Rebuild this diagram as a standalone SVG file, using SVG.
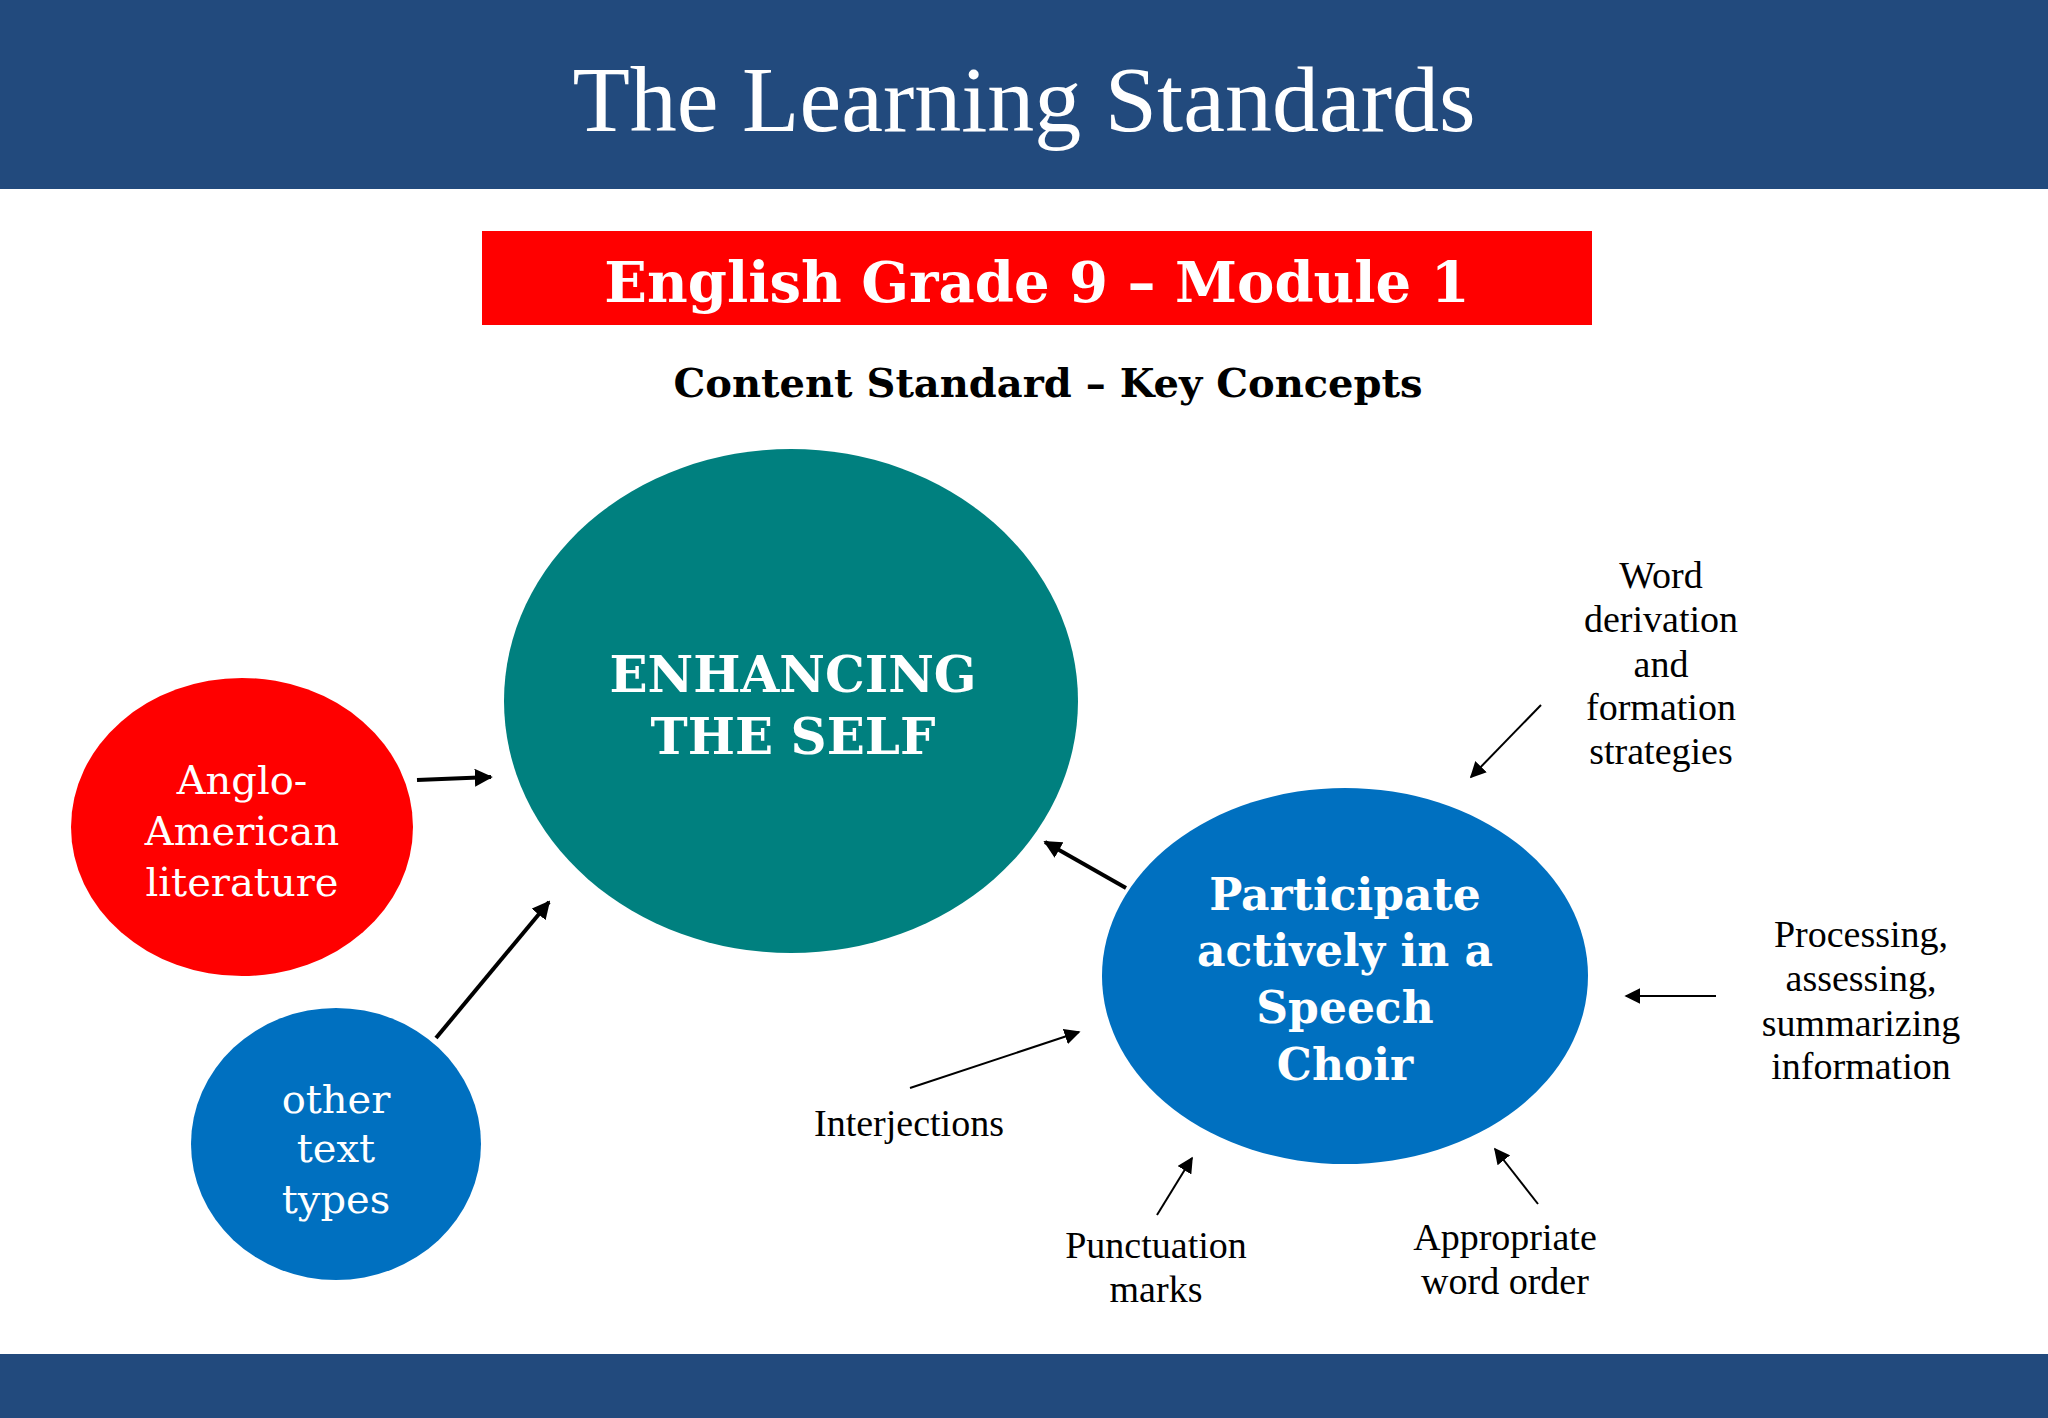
<svg xmlns="http://www.w3.org/2000/svg" width="2048" height="1418" viewBox="0 0 2048 1418">
<style>
.s{font-family:"DejaVu Serif","Liberation Serif",serif;text-anchor:middle}
.w{fill:#fff}
.b{font-weight:bold}
.lab{font-family:"Liberation Serif",serif;font-size:38px;text-anchor:middle;fill:#000}
.thick{stroke:#000;stroke-width:4;fill:none;marker-end:url(#ah)}
.thin{stroke:#000;stroke-width:2;fill:none;marker-end:url(#ah2)}
</style>
<defs>
<marker id="ah" viewBox="0 0 10 10" refX="9" refY="5" markerWidth="4.5" markerHeight="4.5" orient="auto"><path d="M0,0L10,5L0,10z" fill="#000"/></marker>
<marker id="ah2" viewBox="0 0 10 10" refX="9" refY="5" markerWidth="8" markerHeight="8" orient="auto"><path d="M0,0L10,5L0,10z" fill="#000"/></marker>
</defs>
<rect width="2048" height="1418" fill="#fff"/>
<rect x="0" y="0" width="2048" height="189" fill="#224A7D"/>
<text x="1024" y="131" font-family="Liberation Serif,serif" font-size="94" text-anchor="middle" fill="#fff">The Learning Standards</text>
<rect x="0" y="1354" width="2048" height="64" fill="#224A7D"/>
<rect x="482" y="231" width="1110" height="94" fill="#FF0000"/>
<text x="1037" y="302" class="s w b" font-size="56">English Grade 9 – Module 1</text>
<text x="1048" y="397" class="s b" font-size="40">Content Standard – Key Concepts</text>
<g id="enhancing"><ellipse cx="791" cy="701" rx="287" ry="252" fill="#00807F"/>
<text x="793" y="692" class="s w b" font-size="50">ENHANCING</text><text x="793" y="754" class="s w b" font-size="50">THE SELF</text></g>
<g id="anglo"><ellipse cx="242" cy="827" rx="171" ry="149" fill="#FF0000"/>
<text class="s w" font-size="40"><tspan x="242" y="794">Anglo-</tspan><tspan x="242" y="845">American</tspan><tspan x="242" y="896">literature</tspan></text></g>
<g id="other"><ellipse cx="336" cy="1144" rx="145" ry="136" fill="#0070C0"/>
<text class="s w" font-size="40"><tspan x="336" y="1113">other</tspan><tspan x="336" y="1162">text</tspan><tspan x="336" y="1213">types</tspan></text></g>
<g id="speech"><ellipse cx="1345" cy="976" rx="243" ry="188" fill="#0070C0"/>
<text class="s w b" font-size="44"><tspan x="1345" y="910">Participate</tspan><tspan x="1345" y="966">actively in a</tspan><tspan x="1345" y="1023">Speech</tspan><tspan x="1345" y="1080">Choir</tspan></text></g>
<g id="labels">
<text class="lab"><tspan x="1661" y="588">Word</tspan><tspan x="1661" y="632">derivation</tspan><tspan x="1661" y="677">and</tspan><tspan x="1661" y="720">formation</tspan><tspan x="1661" y="764">strategies</tspan></text>
<text class="lab"><tspan x="1861" y="947">Processing,</tspan><tspan x="1861" y="991">assessing,</tspan><tspan x="1861" y="1036">summarizing</tspan><tspan x="1861" y="1079">information</tspan></text>
<text class="lab" x="909" y="1136">Interjections</text>
<text class="lab"><tspan x="1156" y="1258">Punctuation</tspan><tspan x="1156" y="1302">marks</tspan></text>
<text class="lab"><tspan x="1505" y="1250">Appropriate</tspan><tspan x="1505" y="1294">word order</tspan></text>
</g>
<g id="connectors">
<line class="thick" x1="417" y1="780" x2="491" y2="777"/>
<line class="thick" x1="436" y1="1038" x2="549" y2="902"/>
<line class="thick" x1="1126" y1="888" x2="1045" y2="842"/>
<line class="thin" x1="1541" y1="705" x2="1471" y2="777"/>
<line class="thin" x1="1716" y1="996" x2="1626" y2="996"/>
<line class="thin" x1="1538" y1="1204" x2="1495" y2="1149"/>
<line class="thin" x1="1157" y1="1215" x2="1192" y2="1158"/>
<line class="thin" x1="910" y1="1088" x2="1079" y2="1032"/>
</g>
</svg>
